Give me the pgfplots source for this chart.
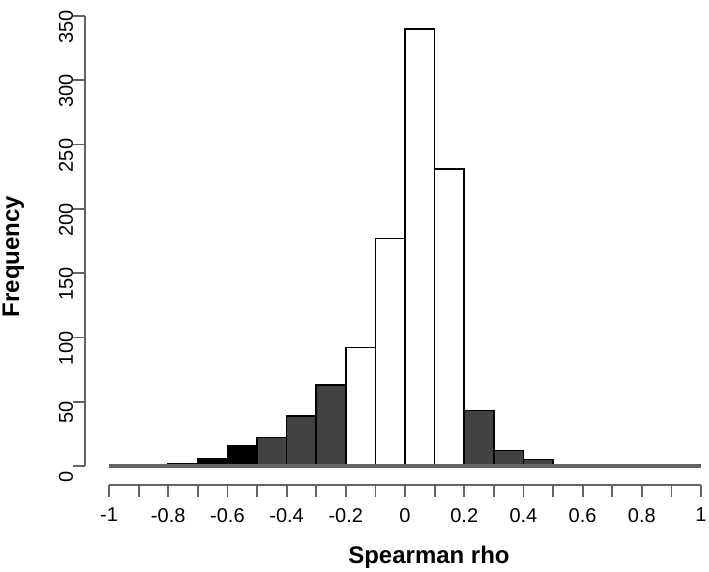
\documentclass[border=0pt]{standalone}
\usepackage{pgfplots}
\pgfplotsset{compat=1.18}
\usepackage{fontspec}
\setmainfont{Liberation Sans}
\definecolor{axgray}{RGB}{100,100,100}
\definecolor{bardark}{RGB}{66,66,66}
\begin{document}
\begin{tikzpicture}
\begin{axis}[
  scale only axis,
  width=639.4pt, height=474.2pt,
  xmin=-1.08, xmax=1.08, ymin=-14.8, ymax=354,
  axis x line=bottom, axis y line=left,
  axis line style={draw=none},
  clip=false,
  tick align=outside,
  major tick length=12pt, minor tick length=12pt,
  tick style={axgray, line width=1.8pt},
  xtick={-1,-0.8,-0.6,-0.4,-0.2,0,0.2,0.4,0.6,0.8,1},
  xticklabels={-1,-0.8,-0.6,-0.4,-0.2,0,0.2,0.4,0.6,0.8,1},
  minor xtick={-0.9,-0.7,-0.5,-0.3,-0.1,0.1,0.3,0.5,0.7,0.9},
  ytick={0,50,100,150,200,250,300,350},
  yticklabels={0,50,100,150,200,250,300,350},
  ticklabel style={font=\fontsize{20}{24}\selectfont},
  yticklabel style={rotate=90, anchor=south, inner sep=0pt, xshift=-11pt},
  xticklabel style={anchor=north, inner sep=0pt, yshift=-11pt},
]
\coordinate (O) at (axis cs:-1,0);
\addplot[ybar, bar width=0.1, bar shift=0pt, fill=black, draw=black, line width=1.5pt]
  coordinates {(-0.75,2)(-0.65,6)(-0.55,16)};
\addplot[ybar, bar width=0.1, bar shift=0pt, fill=bardark, draw=black, line width=1.5pt]
  coordinates {(-0.45,22)(-0.35,39)(-0.25,63)(0.25,43)(0.35,12)(0.45,5)};
\addplot[ybar, bar width=0.1, bar shift=0pt, fill=white, draw=black, line width=1.5pt]
  coordinates {(-0.15,92)(-0.05,177)(0.05,340)(0.15,231)};
\addplot[axgray, line width=3.5pt] coordinates {(-1,0)(1,0)};
\draw[axgray, line width=1.8pt] (axis cs:-1,-14.8) -- (axis cs:1,-14.8);
\draw[axgray, line width=1.8pt] (axis cs:-1.08,0) -- (axis cs:-1.08,350);
\node[font=\bfseries\fontsize{24}{28}\selectfont, anchor=base] at (axis cs:0.081,-76.2) {Spearman rho};
\node[font=\bfseries\fontsize{24}{28}\selectfont, anchor=base, rotate=90] at (axis cs:-1.304,163) {Frequency};
\end{axis}
\pgfresetboundingbox
\path ([shift={(-109pt,-106pt)}]O) rectangle ([shift={(600pt,466pt)}]O);
\end{tikzpicture}
\end{document}
